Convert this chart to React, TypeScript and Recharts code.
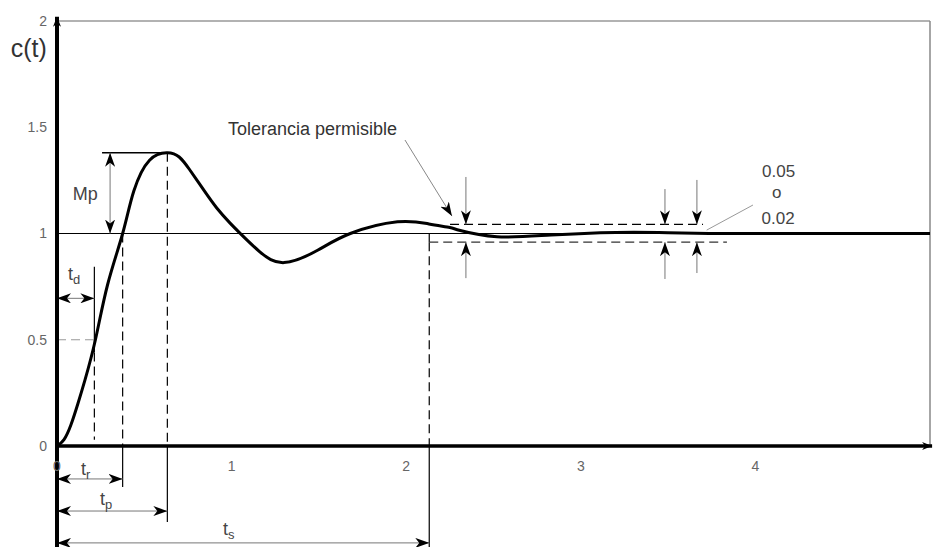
import React from 'react';
import { LineChart, Line, XAxis, YAxis, ReferenceLine, ReferenceDot } from 'recharts';

// Step response c(t)
const time = [0, 0.04, 0.08, 0.12, 0.16, 0.22, 0.29, 0.376, 0.44, 0.53, 0.632, 0.70, 0.76, 0.84, 0.915, 0.99, 1.05, 1.16, 1.3, 1.49, 1.68, 1.95, 2.13, 2.25, 2.31, 2.52, 2.83, 3.2, 3.5, 3.8, 4.2, 5.0];
const response = [0, 0.03, 0.1, 0.2, 0.31, 0.5, 0.76, 1.0, 1.2, 1.345, 1.38, 1.36, 1.3, 1.205, 1.12, 1.05, 1.0, 0.915, 0.863, 0.92, 1.0, 1.055, 1.045, 1.028, 1.014, 0.985, 0.993, 1.005, 1.004, 1.0, 1.0, 1.0];
const xTicks = [0, 1, 2, 3, 4];
const yTicks = [0, 0.5, 1, 1.5, 2];

const data = time.map((t, i) => ({ t, c: response[i] }));

const FONT = '"Liberation Sans", Arial, Helvetica, sans-serif';

type Seg = {
  x1: number; y1: number; x2: number; y2: number;
  color?: string; w?: number; dash?: string; start?: boolean; end?: boolean; head?: string;
};

const DASH = '9 5';

const segments: Seg[] = [
  // frame
  { x1: 0, y1: 2, x2: 5, y2: 2, color: '#999', w: 1.5 },
  { x1: 5, y1: 0, x2: 5, y2: 2, color: '#888', w: 1.5 },
  // final value line
  { x1: 0, y1: 1, x2: 5, y2: 1, color: '#000', w: 1.2 },
  // Mp
  { x1: 0.258, y1: 1.38, x2: 0.632, y2: 1.38, color: '#000', w: 1.3 },
  { x1: 0.304, y1: 1.38, x2: 0.304, y2: 1.0, color: '#777', w: 1, start: true, end: true },
  // peak time
  { x1: 0.632, y1: 1.38, x2: 0.632, y2: 0, color: '#000', w: 1.2, dash: DASH },
  { x1: 0.632, y1: 0, x2: 0.632, y2: -0.358, color: '#000', w: 1.2 },
  // rise time
  { x1: 0.376, y1: 1.0, x2: 0.376, y2: 0, color: '#000', w: 1.2, dash: DASH },
  { x1: 0.376, y1: 0, x2: 0.376, y2: -0.193, color: '#000', w: 1.2 },
  { x1: 0, y1: -0.155, x2: 0.376, y2: -0.155, color: '#777', w: 1, start: true, end: true },
  // delay time
  { x1: 0.214, y1: 0.844, x2: 0.214, y2: 0.44, color: '#000', w: 1.2 },
  { x1: 0.214, y1: 0.44, x2: 0.214, y2: 0.03, color: '#000', w: 1.2, dash: DASH },
  { x1: 0, y1: 0.5, x2: 0.214, y2: 0.5, color: '#999', w: 1.2, dash: DASH },
  { x1: 0, y1: 0.695, x2: 0.214, y2: 0.695, color: '#777', w: 1, start: true, end: true },
  // tp arrow
  { x1: 0, y1: -0.306, x2: 0.632, y2: -0.306, color: '#777', w: 1, start: true, end: true },
  // settling time
  { x1: 2.132, y1: 1.0, x2: 2.132, y2: 0.959, color: '#000', w: 1.2 },
  { x1: 2.132, y1: 0.959, x2: 2.132, y2: 0, color: '#000', w: 1.2, dash: DASH },
  { x1: 2.132, y1: 0, x2: 2.132, y2: -0.48, color: '#000', w: 1.2 },
  { x1: 0, y1: -0.456, x2: 2.132, y2: -0.456, color: '#777', w: 1, start: true, end: true },
  // tolerance band
  { x1: 2.251, y1: 1.043, x2: 3.70, y2: 1.043, color: '#000', w: 1.2, dash: DASH },
  { x1: 2.132, y1: 0.959, x2: 3.837, y2: 0.959, color: '#333', w: 1.2, dash: DASH },
  { x1: 2.342, y1: 1.266, x2: 2.342, y2: 1.043, color: '#777', w: 1, end: true },
  { x1: 2.342, y1: 0.79, x2: 2.342, y2: 0.959, color: '#777', w: 1, end: true },
  { x1: 3.482, y1: 1.209, x2: 3.482, y2: 1.043, color: '#777', w: 1, end: true },
  { x1: 3.482, y1: 0.786, x2: 3.482, y2: 0.959, color: '#777', w: 1, end: true },
  { x1: 3.665, y1: 1.252, x2: 3.665, y2: 1.043, color: '#777', w: 1, end: true },
  { x1: 3.665, y1: 0.814, x2: 3.665, y2: 0.959, color: '#777', w: 1, end: true },
  // leaders
  { x1: 1.993, y1: 1.44, x2: 2.262, y2: 1.082, color: '#888', w: 1, end: true },
  { x1: 3.986, y1: 1.134, x2: 3.721, y2: 1.016, color: '#999', w: 1 },
  // axes
  { x1: 0, y1: 0, x2: 5.012, y2: 0, color: '#000', w: 3.5, end: true, head: 'axhead' },
  { x1: 0, y1: -0.48, x2: 0, y2: 2.02, color: '#000', w: 4, end: true, head: 'axhead' },
];

type Lbl = { x: number; y: number; text: string; sub?: string; size: number; anchor?: 'start' | 'middle' | 'end'; color?: string };

const labels: Lbl[] = [
  { x: -0.265, y: 1.83, text: 'c(t)', size: 25, color: '#333' },
  { x: 0.09, y: 1.158, text: 'Mp', size: 18, color: '#444' },
  { x: 0.063, y: 0.781, text: 't', sub: 'd', size: 18, color: '#444' },
  { x: 0.137, y: -0.136, text: 't', sub: 'r', size: 18, color: '#444' },
  { x: 0.246, y: -0.278, text: 't', sub: 'p', size: 18, color: '#444' },
  { x: 0.951, y: -0.419, text: 't', sub: 's', size: 18, color: '#444' },
  { x: 0.979, y: 1.464, text: 'Tolerancia permisible', size: 18, color: '#333' },
  { x: 4.038, y: 1.268, text: '0.05', size: 17, color: '#444' },
  { x: 4.122, y: 1.166, text: 'o', size: 17, anchor: 'middle', color: '#444' },
  { x: 4.035, y: 1.047, text: '0.02', size: 17, color: '#444' },
];

const renderSeg = (s: Seg, i: number) => {
  const head = s.head || 'ah';
  return (
    <ReferenceLine
      key={'s' + i}
      ifOverflow="visible"
      segment={[{ x: s.x1, y: s.y1 }, { x: s.x2, y: s.y2 }]}
      stroke={s.color}
      strokeWidth={s.w}
      shape={(p: any) => (
        <line
          x1={p.x1}
          y1={p.y1}
          x2={p.x2}
          y2={p.y2}
          stroke={s.color || '#000'}
          strokeWidth={s.w || 1}
          strokeDasharray={s.dash}
          markerStart={s.start ? `url(#${head})` : undefined}
          markerEnd={s.end ? `url(#${head})` : undefined}
        />
      )}
    />
  );
};

const renderLabel = (l: Lbl, i: number) => (
  <ReferenceDot
    key={'l' + i}
    x={l.x}
    y={l.y}
    r={0}
    ifOverflow="visible"
    shape={(p: any) => (
      <text
        x={p.cx}
        y={p.cy}
        fontSize={l.size}
        fontFamily={FONT}
        fill={l.color || '#333'}
        textAnchor={l.anchor || 'start'}
      >
        {l.text}
        {l.sub ? (
          <tspan fontSize={l.size * 0.72} dy={4}>
            {l.sub}
          </tspan>
        ) : null}
      </text>
    )}
  />
);

export default function App() {
  return (
    <div style={{ position: 'absolute', left: 0, top: 0, background: '#fff' }}>
      <LineChart width={933} height={547} data={data} margin={{ top: 21, right: 3, bottom: 0, left: 0 }}>
        <defs>
          <marker id="ah" viewBox="0 0 14 10" refX="14" refY="5" markerWidth="14" markerHeight="10" markerUnits="userSpaceOnUse" orient="auto-start-reverse">
            <path d="M0,0 L14,5 L0,10 L4,5 z" fill="#000" />
          </marker>
          <marker id="axhead" viewBox="0 0 10 8" refX="10" refY="4" markerWidth="10" markerHeight="8" markerUnits="userSpaceOnUse" orient="auto-start-reverse">
            <path d="M0,0 L10,4 L0,8 L3,4 z" fill="#000" />
          </marker>
        </defs>
        <XAxis
          type="number"
          dataKey="t"
          domain={[0, 5]}
          ticks={xTicks}
          height={101}
          axisLine={false}
          tickLine={false}
          tickSize={8}
          tickMargin={7}
          tick={{ fill: '#666', fontSize: 14, fontFamily: FONT }}
          allowDataOverflow
        />
        <YAxis
          type="number"
          domain={[0, 2]}
          ticks={yTicks}
          width={57}
          axisLine={false}
          tickLine={false}
          tickSize={6}
          tickMargin={4}
          tick={{ fill: '#666', fontSize: 14, fontFamily: FONT }}
          allowDataOverflow
        />
        {segments.map(renderSeg)}
        <Line
          type="natural"
          dataKey="c"
          stroke="#000"
          strokeWidth={3}
          dot={false}
          isAnimationActive={false}
        />
        {labels.map(renderLabel)}
      </LineChart>
    </div>
  );
}
